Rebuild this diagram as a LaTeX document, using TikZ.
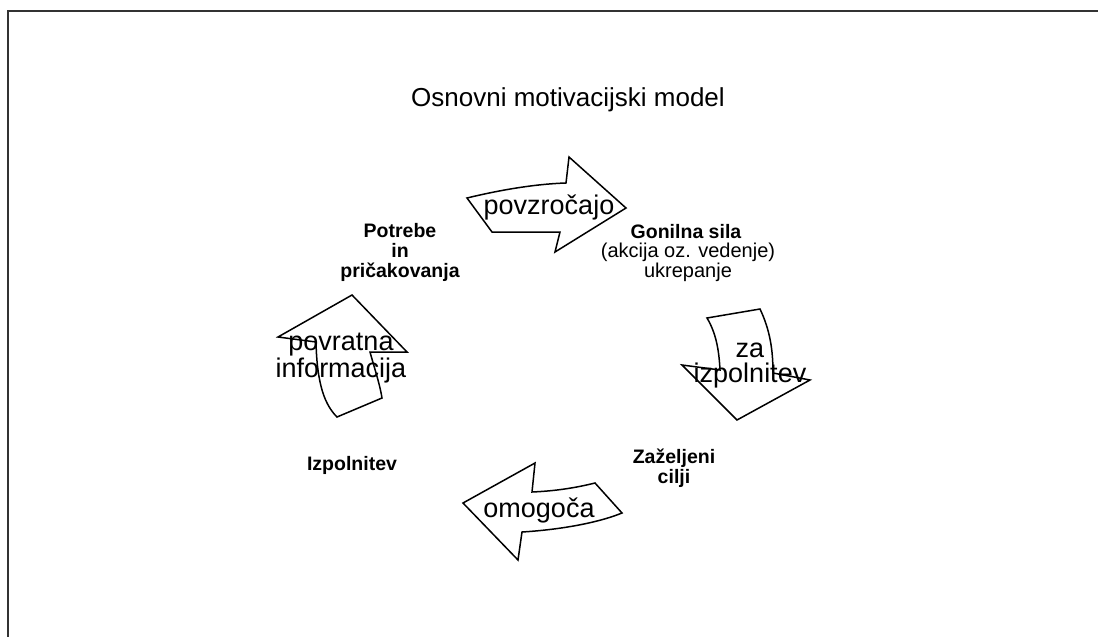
\documentclass[tikz,border=0pt]{standalone}
\usepackage{fontspec}
\setmainfont{Liberation Sans}
\begin{document}
\begin{tikzpicture}[x=1pt,y=-1pt,
  blockarrow/.style={draw=black,line width=1.5pt,line join=miter},
  arrowtext/.style={font=\fontsize{27}{25}\selectfont,align=center,inner sep=0pt},
  labelbold/.style={font=\fontsize{19.5}{20}\selectfont\bfseries,align=center,inner sep=0pt},
  labelreg/.style={font=\fontsize{20}{20}\selectfont,align=center,inner sep=0pt},
  frameline/.style={draw=black!80,line width=2pt}]
\useasboundingbox (0,0) rectangle (1098,637);
% frame (left and top edges)
\coordinate (fbl) at (7.5,637);
\coordinate (ftl) at (7.5,11);
\coordinate (ftr) at (1098,11);
\draw[frameline] (fbl) -- (ftl) -- (ftr);
% title
\node[font=\fontsize{26}{26}\selectfont,inner sep=0pt] (title) at (568,100) {Osnovni motivacijski model};
% top arrow
\draw[blockarrow] (467,198) .. controls (500,190) and (535,184) .. (566,183)
  -- (569,157) -- (626,208) -- (555,252) -- (560,232) -- (492,232) -- cycle;
% right arrow
\draw[blockarrow] (707,318) -- (760,309) .. controls (770,330) and (773,350) .. (773,373)
  -- (810,380) -- (737,420) -- (682,365) -- (720,370)
  .. controls (719,350) and (716,333) .. (707,318) -- cycle;
% bottom arrow
\draw[blockarrow] (463,503) -- (535,463) -- (532,492)
  .. controls (555,491) and (575,488) .. (595,483) -- (622,513)
  .. controls (595,524) and (555,530) .. (522,532) -- (518,560) -- cycle;
% left arrow
\draw[blockarrow] (352,295) -- (407,352) -- (370,352)
  .. controls (375,370) and (380,385) .. (382,398) -- (337,417)
  .. controls (325,405) and (317,385) .. (316,342) -- (278,337) -- cycle;
% arrow texts
\node[arrowtext] (t1) at (549,207) {povzročajo};
\node[arrowtext] (t2) at (750,366) {za\\izpolnitev};
\node[arrowtext] (t3) at (539,510) {omogoča};
\node[arrowtext] (t4) at (341,358) {povratna\\informacija};
% labels
\node[labelbold] (n1) at (400,252) {Potrebe\\in\\pričakovanja};
\node[labelbold] (n2) at (686,232) {Gonilna sila};
\node[labelreg] (n2b) at (688,262) {(akcija oz. vedenje)\\ukrepanje};
\node[labelbold] (n3) at (674,468) {Zaželjeni\\cilji};
\node[labelbold] (n4) at (352,465) {Izpolnitev};
\end{tikzpicture}
\end{document}
